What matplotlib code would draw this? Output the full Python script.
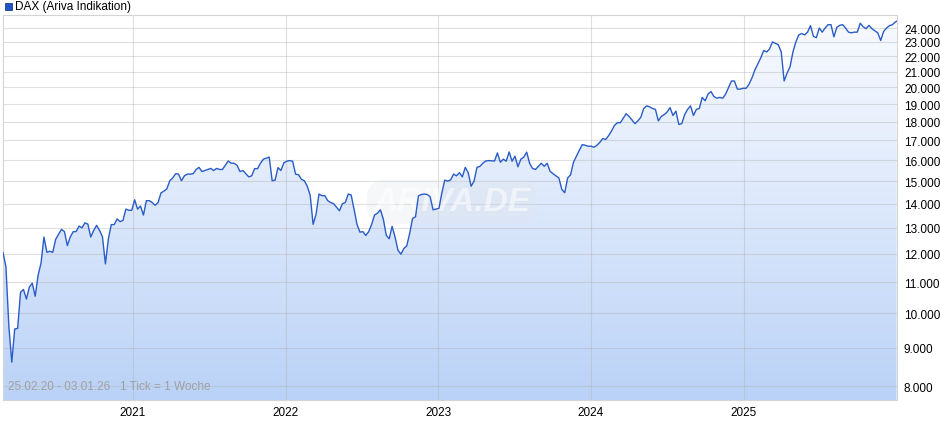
import matplotlib
matplotlib.use('Agg')
import matplotlib.pyplot as plt
import matplotlib.dates as mdates
from matplotlib.colors import LinearSegmentedColormap
from matplotlib.patches import Rectangle
from matplotlib.ticker import FixedLocator, FuncFormatter, NullLocator
import numpy as np
import pandas as pd

plt.rcParams['font.family'] = ['Liberation Sans', 'DejaVu Sans']

# weekly DAX values (1 tick = 1 week, starting 25.02.2020)
v2020 = [12050, 11540, 9620, 8610, 9530, 9550, 10670, 10760, 10450, 10840,
         10970, 10540, 11240, 11670, 12640, 12060, 12100, 12060, 12550, 12750,
         12940, 12850, 12310, 12640, 12850, 12850, 13070, 13000, 13200, 13150,
         12640, 12900, 13100, 12900, 12650, 11640, 12550, 13130, 13130, 13360,
         13250, 13300, 13770, 13720, 13720]
v2021 = [14170, 13770, 13900, 13520, 14130, 14130, 14050, 13930, 14050, 14470,
         14550, 14650, 15020, 15150, 15350, 15330, 15020, 15250, 15330, 15330,
         15350, 15550, 15650, 15450, 15500, 15550, 15600, 15500, 15600, 15550,
         15550, 15750, 15960, 15850, 15850, 15750, 15450, 15500, 15350, 15200,
         15250, 15590, 15590, 15850, 16050, 16100, 16150, 15020, 15050, 15640,
         15500, 15870]
v2022 = [15950, 15980, 15950, 15330, 15300, 15090, 15020, 14770, 14360, 13140,
         13550, 14420, 14350, 14350, 14130, 14050, 14000, 13850, 13700, 14000,
         14050, 14420, 14380, 13760, 13140, 12830, 12850, 12700, 12850, 13140,
         13520, 13600, 13740, 13350, 12710, 12570, 13060, 12640, 12140, 11990,
         12200, 12300, 12780, 13380, 13450, 14340, 14400, 14420, 14400, 14300,
         13740, 13770]
v2023 = [13800, 14470, 15050, 15000, 15060, 15330, 15250, 15400, 15200, 15650,
         15400, 14770, 15000, 15650, 15700, 15850, 15960, 15980, 15970, 15960,
         16360, 15900, 16050, 15950, 16410, 15950, 16200, 15680, 16050, 16150,
         16400, 15850, 15600, 15550, 15700, 15850, 15700, 15850, 15460, 15350,
         15250, 15150, 14630, 14480, 15150, 15300, 15900, 16200, 16500, 16780,
         16750, 16700]
v2024 = [16700, 16650, 16750, 16900, 17100, 17050, 17250, 17500, 17800, 17950,
         17950, 18200, 18450, 18300, 18100, 17900, 18050, 18250, 18750, 18900,
         18850, 18750, 18700, 18050, 18300, 18400, 18550, 18800, 18350, 18600,
         17850, 17900, 18400, 18700, 18900, 18350, 18700, 18750, 19400, 19200,
         19600, 19750, 19450, 19350, 19400, 19350, 19600, 20000, 20400, 20400,
         19900, 19900, 19950]
v2025 = [19950, 20200, 20600, 21100, 21500, 21900, 22400, 22300, 22500, 23000,
         22900, 22800, 22300, 20400, 20900, 21300, 22300, 23000, 23500, 23600,
         23500, 23700, 24180, 23400, 23300, 24000, 23700, 24000, 24250, 24250,
         23360, 24050, 24200, 24250, 24000, 23700, 23650, 23700, 23700, 24360,
         24100, 23950, 24200, 23950, 23800, 23650, 23100, 23750, 24000, 24180,
         24250, 24450]
last_value = 24500

values = v2020 + v2021 + v2022 + v2023 + v2024 + v2025 + [last_value]
dates = pd.date_range('2020-02-25', periods=len(values) - 1, freq='7D')
dates = dates.append(pd.DatetimeIndex(['2026-01-02']))

y_ticks = list(range(8000, 25000, 1000))
year_ticks = pd.to_datetime(['2021-01-01', '2022-01-01', '2023-01-01', '2024-01-01', '2025-01-01'])
start, end = pd.Timestamp('2020-02-25'), pd.Timestamp('2026-01-03')

fig = plt.figure(figsize=(9.4, 4.35), dpi=100)
ax = fig.add_axes([3 / 940, 34 / 435, 894 / 940, 385 / 435])
ax.set_yscale('log')
ax.set_ylim(7665, 24980)
ax.set_xlim(start, end)

# gradient area under the line
cmap = LinearSegmentedColormap.from_list('area', ['#bad2f7', '#dce8fb', '#f8fbff'])
grad = np.linspace(0, 1, 256).reshape(-1, 1)
im = ax.imshow(grad, extent=[0, 1, 0, 1], transform=ax.transAxes, origin='lower',
               aspect='auto', cmap=cmap, zorder=0)
poly = ax.fill_between(dates, values, 7000, facecolor='none', edgecolor='none')
im.set_clip_path(poly.get_paths()[0], transform=ax.transData)

ax.plot(dates, values, color='#2a5cc8', lw=1.0, zorder=3)

# axes, ticks and grid
ax.yaxis.set_major_locator(FixedLocator(y_ticks))
ax.yaxis.set_minor_locator(NullLocator())
ax.yaxis.set_major_formatter(FuncFormatter(lambda v, p: f'{int(v):,}'.replace(',', '.')))
ax.yaxis.tick_right()
ax.xaxis.set_major_locator(FixedLocator(mdates.date2num(year_ticks)))
ax.xaxis.set_major_formatter(mdates.DateFormatter('%Y'))
ax.tick_params(axis='y', length=0, pad=5, labelsize=8.5, labelcolor='black')
ax.tick_params(axis='x', length=0, pad=4, labelsize=8.5, labelcolor='black')
ax.set_axisbelow('line')
ax.grid(True, color='#b0b0b0', alpha=0.4, lw=0.8)
for s in ax.spines.values():
    s.set_color('#d4d4d4')
    s.set_linewidth(0.8)

# watermark
ax.text(0.502, 0.515, 'ARIVA.DE', transform=ax.transAxes, ha='center', va='center',
        fontsize=24, fontweight='bold', style='italic', color='white', alpha=0.55,
        bbox=dict(boxstyle='round,pad=0.2,rounding_size=0.6', fc='#e2e5ea',
                  ec='none', alpha=0.3), zorder=2)

ax.text(5 / 894, 0.037, '25.02.20 - 03.01.26   1 Tick = 1 Woche', transform=ax.transAxes,
        ha='left', va='center', fontsize=8.5, color='#a0a0a0', zorder=4)

# legend
fig.patches.append(Rectangle((5 / 940, 424 / 435), 7 / 940, 7 / 435, transform=fig.transFigure,
                             facecolor='#2255c4', edgecolor='#1a3f8f', lw=0.6))
fig.text(15 / 940, 428 / 435, 'DAX (Ariva Indikation)', ha='left', va='center',
         fontsize=8.5, color='black')

fig.savefig('out.png', dpi=100)
